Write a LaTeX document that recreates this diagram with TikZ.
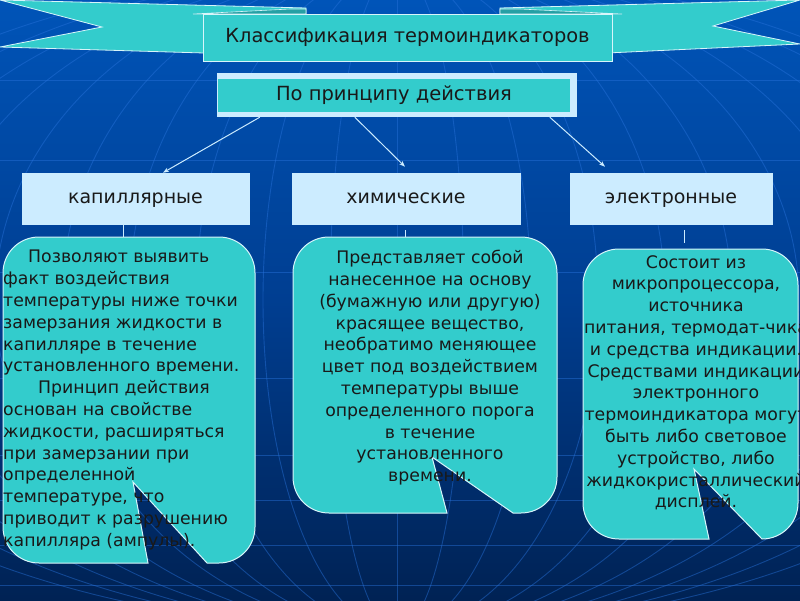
\documentclass[tikz,border=0pt]{standalone}
\usepackage{fontspec}
\setmainfont{DejaVu Sans}
\usetikzlibrary{arrows.meta,calc}
\definecolor{turq}{RGB}{51,204,204}
\definecolor{turqdark}{RGB}{38,160,165}
\definecolor{lightbx}{RGB}{204,236,255}
\definecolor{bgtop}{RGB}{0,84,184}
\definecolor{bgmid}{RGB}{0,62,145}
\definecolor{bgbot}{RGB}{0,34,84}
\definecolor{gridc}{RGB}{40,115,220}
\definecolor{ink}{RGB}{25,25,25}
\definecolor{edge}{RGB}{215,245,250}
\begin{document}
\begin{tikzpicture}[x=1pt,y=-1pt,
  hbox/.style={fill=lightbx, draw=lightbx, line width=0.6pt, minimum height=51pt, font=\fontsize{19}{23}\selectfont, text=ink, inner sep=0, text height=13pt, text depth=4pt},
  conn/.style={draw=lightbx, line width=1pt, -{Stealth[length=6pt,width=4.5pt]}},
  link/.style={draw=lightbx, line width=1pt},
  callout/.style={fill=turq, draw=edge, line width=1pt},
  body/.style={font=\fontsize{17.3}{21.8}\selectfont, text=ink, inner sep=0},
  ribbon/.style={fill=turq, draw=edge, line width=0.8pt},
  gridline/.style={draw=gridc, opacity=0.45, line width=0.9pt}]
\useasboundingbox (0,0) rectangle (800,600);
\shade[top color=bgtop, bottom color=bgbot, middle color=bgmid] (0,0) rectangle (800,600);
\begin{scope}
  \clip (0,0) rectangle (800,600);
  \foreach \w in {67,134,...,670} \draw[gridline] (397,300) ellipse [x radius=\w pt, y radius=330pt];
  \draw[gridline] (397,-30) -- (397,630);
  \foreach \yy in {80,160,272,378,455,500,545,585} \draw[gridline] (0,\yy) -- (800,\yy);
\end{scope}
% ribbon
\filldraw[ribbon] (0,0) -- (306,8) -- (306,56) -- (0,47) -- (102,27) -- cycle;
\filldraw[ribbon] (800,0) -- (500,8) -- (500,58) -- (800,44) -- (713,26) -- cycle;
\filldraw[fill=turqdark, draw=edge, line width=0.6pt] (193,14) -- (290,9) -- (306,9) -- (306,14) -- cycle;
\filldraw[fill=turqdark, draw=edge, line width=0.6pt] (622,14) -- (520,9) -- (500,9) -- (500,14) -- cycle;
\node[fill=turq, draw=edge, line width=0.8pt, minimum width=409pt, minimum height=47pt, inner sep=0,
      font=\fontsize{19.4}{23}\selectfont, text=ink] (title) at (407.5,37.5) {Классификация термоиндикаторов};
% principle
\fill[lightbx] (217,73) rectangle (577,117);
\node[fill=turq, minimum width=352pt, minimum height=33pt, inner sep=0,
      font=\fontsize{19.5}{23}\selectfont, text=ink] (princ) at (394,95.5) {По принципу действия};
% headings
\node[hbox, minimum width=227pt] (cap) at (135.5,198.5) {капиллярные};
\node[hbox, minimum width=228pt] (chem) at (406,198.5) {химические};
\node[hbox, minimum width=202pt] (elec) at (671,198.5) {электронные};
\draw[conn] ($(princ.south west)+(42,5)$) -- ($(cap.north)+(27.5,0)$);
\draw[conn] ($(princ.south west)+(137,5)$) -- ($(chem.north)+(-1,-6)$);
\draw[conn] ($(princ.south west)+(332,5)$) -- ($(elec.north)+(-66,-6)$);
% callouts
\filldraw[callout] (148,563) -- (39,563) .. controls (19,563) and (3,547) .. (3,527) -- (3,273) .. controls (3,253) and (19,237) .. (39,237) -- (219,237) .. controls (239,237) and (255,253) .. (255,273) -- (255,527) .. controls (255,547) and (239,563) .. (219,563) -- (207,563) -- (133,482) -- cycle;
\filldraw[callout] (447,513) -- (329,513) .. controls (309,513) and (293,497) .. (293,477) -- (293,273) .. controls (293,253) and (309,237) .. (329,237) -- (521,237) .. controls (541,237) and (557,253) .. (557,273) -- (557,477) .. controls (557,497) and (541,513) .. (521,513) -- (513,513) -- (432,457) -- cycle;
\filldraw[callout] (709,539) -- (619,539) .. controls (599,539) and (583,523) .. (583,503) -- (583,285) .. controls (583,265) and (599,249) .. (619,249) -- (762,249) .. controls (782,249) and (798,265) .. (798,285) -- (798,503) .. controls (798,523) and (782,539) .. (762,539) -- (694,469) -- cycle;
\coordinate (b1) at (123,237);
\coordinate (b2) at (405,237);
\coordinate (b3) at (684,243);
\draw[link] ($(cap.south)+(-12.5,0)$) -- (b1);
\draw[link] ($(chem.south)+(-1,6)$) -- (b2);
\draw[link] ($(elec.south)+(13,6)$) -- (b3);
% texts
\node[body, align=left, anchor=north west] (t1) at (3,250) {\hspace*{25pt}Позволяют выявить\\факт воздействия\\температуры ниже точки\\замерзания жидкости в\\капилляре в течение\\установленного времени.\\\hspace*{35pt}Принцип действия\\основан на свойстве\\жидкости, расширяться\\при замерзании при\\определенной\\температуре, что\\приводит к разрушению\\капилляра (ампулы).};
\node[body, align=center, anchor=north] (t2) at (430,250) {Представляет собой\\нанесенное на основу\\(бумажную или другую)\\красящее вещество,\\необратимо меняющее\\цвет под воздействием\\температуры выше\\определенного порога\\в течение\\установленного\\времени.};
\node[body, align=center, anchor=north] (t3) at (696,255) {Состоит из\\микропроцессора,\\источника\\питания, термодат-чика\\и средства индикации.\\Средствами индикации\\электронного\\термоиндикатора могут\\быть либо световое\\устройство, либо\\жидкокристаллический\\дисплей.};
\end{tikzpicture}
\end{document}
